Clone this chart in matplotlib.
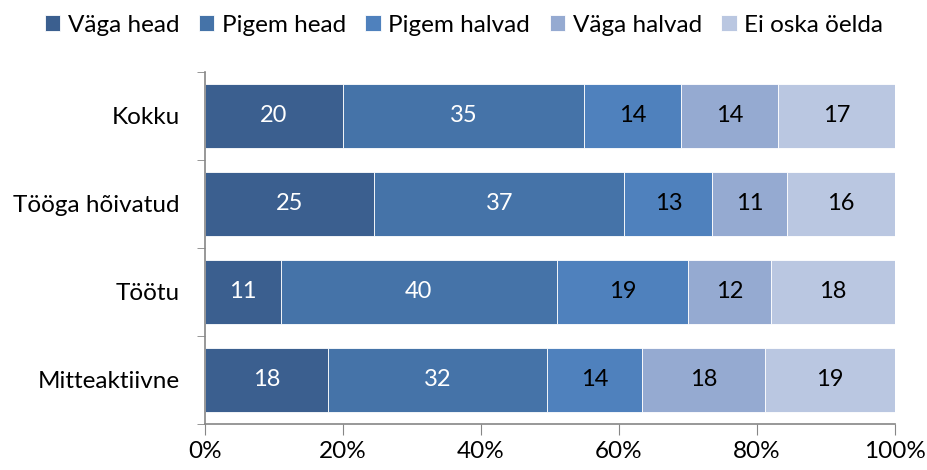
import matplotlib.pyplot as plt
import numpy as np

plt.rcParams['font.family'] = ['Lato', 'DejaVu Sans']

categories = ["Kokku", "Tööga hõivatud", "Töötu", "Mitteaktiivne"]
series = ["Väga head", "Pigem head", "Pigem halvad", "Väga halvad", "Ei oska öelda"]
vaga_head = [20, 25, 11, 18]
pigem_head = [35, 37, 40, 32]
pigem_halvad = [14, 13, 19, 14]
vaga_halvad = [14, 11, 12, 18]
ei_oska = [17, 16, 18, 19]
colors = ["#3B5F8F", "#4573A8", "#4F81BD", "#95AAD1", "#BAC7E1"]
text_colors = ["white", "white", "black", "black", "black"]

values = np.array([vaga_head, pigem_head, pigem_halvad, vaga_halvad, ei_oska], dtype=float)
shares = values / values.sum(axis=0) * 100

fig = plt.figure(figsize=(9.28, 4.70), dpi=100)
ax = fig.add_axes([205 / 928, 1 - 424 / 470, 690 / 928, 352 / 470])

y = np.arange(len(categories))
left = np.zeros(len(categories))
for i, name in enumerate(series):
    ax.barh(y, shares[i], left=left, height=0.73, color=colors[i],
            edgecolor="white", linewidth=0.6, label=name)
    for j in range(len(categories)):
        ax.text(left[j] + shares[i][j] / 2, y[j], f"{int(values[i][j])}",
                ha="center", va="center", fontsize=17, color=text_colors[i])
    left += shares[i]

ax.set_xlim(0, 100)
ax.set_ylim(len(categories) - 0.5, -0.5)
ax.set_xticks(np.arange(0, 101, 20))
ax.set_xticklabels([f"{v}%" for v in range(0, 101, 20)], fontsize=17.5)
ax.set_yticks(y)
ax.set_yticklabels(categories, fontsize=17.5)
ax.set_yticks(np.arange(-0.5, len(categories), 1), minor=True)
ax.tick_params(axis="y", which="major", length=0, pad=18)
ax.tick_params(axis="y", which="minor", length=6, color="#868686", direction="out")
ax.tick_params(axis="x", length=8, color="#868686", direction="out", pad=4)
for s in ["top", "right"]:
    ax.spines[s].set_visible(False)
for s in ["left", "bottom"]:
    ax.spines[s].set_color("#868686")
    ax.spines[s].set_linewidth(1.2)

fig.legend(loc="upper center", bbox_to_anchor=(0.5, 1.015), ncol=5, frameon=False,
           fontsize=17.5, handlelength=0.65, handleheight=0.65, handletextpad=0.3,
           columnspacing=0.8)

fig.savefig("out.png", dpi=100)
